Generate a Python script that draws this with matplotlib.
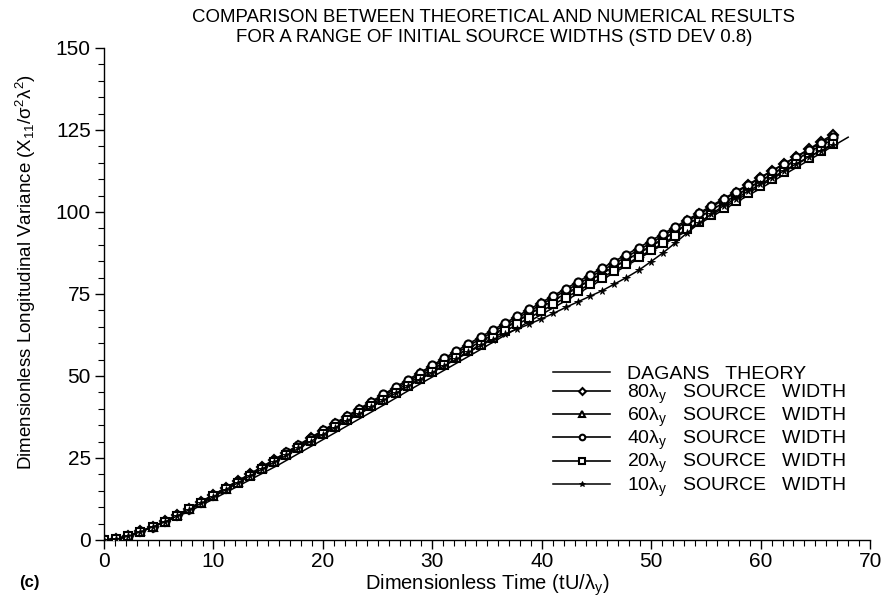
import matplotlib
matplotlib.use("Agg")
import matplotlib.pyplot as plt
from matplotlib.ticker import MultipleLocator

# ---------------- data ----------------
theory_t = [0, 1, 2, 3, 4, 5, 6, 7, 8, 10, 12, 14, 16, 18, 20, 22, 24, 26, 28, 30,
            32, 34, 36, 38, 40, 42, 44, 46, 48, 50, 52, 54, 56, 58, 60, 62, 64, 66, 68]
theory_v = [0.0, 0.4, 1.2, 2.2, 3.4, 4.7, 6.1, 7.6, 9.1, 12.5, 16.0, 19.5, 23.0, 26.8,
            30.6, 34.4, 38.2, 42.0, 45.9, 49.7, 53.5, 57.3, 61.2, 65.0, 68.8, 72.6,
            76.5, 80.3, 84.1, 88.0, 91.8, 95.7, 99.5, 103.4, 107.2, 111.1, 115.0,
            118.9, 122.8]

time = [0.0, 1.11, 2.22, 3.33, 4.44, 5.55, 6.66, 7.77, 8.88, 9.99, 11.1, 12.21, 13.32,
        14.43, 15.54, 16.65, 17.76, 18.87, 19.98, 21.09, 22.2, 23.31, 24.42, 25.53,
        26.64, 27.75, 28.86, 29.97, 31.08, 32.19, 33.3, 34.41, 35.52, 36.63, 37.74,
        38.85, 39.96, 41.07, 42.18, 43.29, 44.4, 45.51, 46.62, 47.73, 48.84, 49.95,
        51.06, 52.17, 53.28, 54.39, 55.5, 56.61, 57.72, 58.83, 59.94, 61.05, 62.16,
        63.27, 64.38, 65.49, 66.6]

w80 = [0.0, 0.2, 1.3, 2.6, 4.1, 5.7, 7.6, 9.6, 11.6, 13.7, 15.8, 17.9, 20.0, 22.2, 24.4,
       26.6, 28.8, 31.0, 33.2, 35.3, 37.5, 39.6, 41.8, 44.0, 46.1, 48.3, 50.5, 52.7,
       54.9, 57.0, 59.2, 61.3, 63.4, 65.5, 67.6, 69.7, 71.8, 73.9, 76.0, 78.0, 80.1,
       82.2, 84.2, 86.3, 88.4, 90.5, 92.7, 94.9, 97.1, 99.3, 101.5, 103.7, 105.9,
       108.1, 110.3, 112.5, 114.7, 116.9, 119.1, 121.4, 123.6]
w60 = [0.0, 0.2, 1.3, 2.6, 4.0, 5.6, 7.5, 9.4, 11.4, 13.5, 15.6, 17.7, 19.8, 21.9, 24.1,
       26.3, 28.5, 30.6, 32.8, 34.9, 37.0, 39.1, 41.3, 43.4, 45.5, 47.7, 49.9, 52.0,
       54.2, 56.3, 58.4, 60.5, 62.6, 64.7, 66.8, 68.9, 71.0, 73.0, 75.1, 77.1, 79.2,
       81.3, 83.3, 85.4, 87.5, 89.6, 91.8, 94.0, 96.2, 98.4, 100.6, 102.8, 105.0,
       107.2, 109.4, 111.6, 113.8, 116.0, 118.2, 120.2, 122.0]
w40 = [0.0, 0.2, 1.3, 2.6, 4.1, 5.7, 7.6, 9.6, 11.7, 13.8, 15.9, 18.0, 20.1, 22.3, 24.5,
       26.7, 29.0, 31.2, 33.4, 35.6, 37.8, 40.0, 42.2, 44.4, 46.6, 48.8, 51.0, 53.2,
       55.4, 57.6, 59.8, 61.9, 64.0, 66.1, 68.2, 70.3, 72.4, 74.5, 76.6, 78.7, 80.8,
       82.9, 84.9, 87.0, 89.1, 91.2, 93.3, 95.4, 97.6, 99.7, 101.9, 104.0, 106.2,
       108.3, 110.5, 112.6, 114.7, 116.8, 118.9, 121.0, 123.0]
w20 = [0.0, 0.2, 1.2, 2.5, 4.0, 5.6, 7.4, 9.3, 11.3, 13.3, 15.4, 17.5, 19.6, 21.7, 23.8,
       26.0, 28.1, 30.2, 32.3, 34.4, 36.5, 38.6, 40.7, 42.8, 44.9, 47.0, 49.1, 51.2,
       53.3, 55.4, 57.5, 59.5, 61.6, 63.6, 65.7, 67.7, 69.8, 71.8, 73.9, 75.9, 78.0,
       80.0, 82.1, 84.1, 86.2, 88.3, 90.4, 92.6, 94.7, 96.9, 99.1, 101.3, 103.5,
       105.7, 107.9, 110.1, 112.3, 114.5, 116.6, 118.7, 120.8]
w10 = [0.0, 0.2, 1.2, 2.5, 4.0, 5.5, 7.3, 9.2, 11.2, 13.2, 15.3, 17.4, 19.5, 21.6, 23.7,
       25.8, 27.9, 30.0, 32.1, 34.2, 36.3, 38.4, 40.5, 42.6, 44.7, 46.8, 48.9, 51.0,
       53.1, 55.1, 57.2, 59.3, 61.1, 62.8, 64.3, 65.8, 67.4, 69.1, 70.9, 72.6, 74.3,
       76.0, 78.0, 80.0, 82.2, 84.8, 87.5, 90.5, 93.6, 96.6, 99.4, 101.9, 104.1, 106.3,
       108.4, 110.5, 112.6, 114.7, 116.8, 118.7, 120.3]

series = [
    (w80, "D", r"80λ$_\mathregular{y}$  SOURCE  WIDTH"),
    (w60, "^", r"60λ$_\mathregular{y}$  SOURCE  WIDTH"),
    (w40, "o", r"40λ$_\mathregular{y}$  SOURCE  WIDTH"),
    (w20, "s", r"20λ$_\mathregular{y}$  SOURCE  WIDTH"),
]

# ---------------- figure ----------------
FONT = ["Liberation Sans", "DejaVu Sans"]
plt.rcParams["font.family"] = FONT
plt.rcParams["mathtext.default"] = "regular"

fig = plt.figure(figsize=(8.9, 5.99), dpi=100)
ax = fig.add_axes([0.1169, 0.0985, 0.8607, 0.8214])

ax.plot(theory_t, theory_v, color="black", lw=1.1, label="DAGANS  THEORY", zorder=2)
for vals, mk, lab in series:
    ms = 5.8 if mk != "D" else 5.0
    ax.plot(time, vals, color="black", lw=1.2, marker=mk, ms=ms, mfc="white",
            mec="black", mew=1.5, label=lab, zorder=3)
ax.plot(time, w10, color="black", lw=1.1, marker="*", ms=5.5, mfc="black",
        mec="black", mew=0.6, label=r"10λ$_\mathregular{y}$  SOURCE  WIDTH", zorder=3)

ax.set_xlim(0, 70)
ax.set_ylim(0, 150)
ax.xaxis.set_major_locator(MultipleLocator(10))
ax.xaxis.set_minor_locator(MultipleLocator(1))
ax.yaxis.set_major_locator(MultipleLocator(25))
ax.yaxis.set_minor_locator(MultipleLocator(5))
for s in ("top", "right"):
    ax.spines[s].set_visible(False)
for s in ("left", "bottom"):
    ax.spines[s].set_linewidth(1.0)
ax.tick_params(which="major", direction="out", length=6.5, width=1.0, labelsize=15, pad=2)
ax.tick_params(which="minor", direction="out", length=4.5, width=0.8)
ax.tick_params(axis="y", which="major", pad=3)

ax.set_xlabel(r"Dimensionless Time (tU/λ$_\mathregular{y}$)", fontsize=14.5, labelpad=1)
ax.set_ylabel(r"Dimensionless Longitudinal Variance (X$_{\mathregular{11}}$/σ$^\mathregular{2}$λ$^\mathregular{2}$)",
              fontsize=13.5)
ax.yaxis.set_label_coords(-0.086, 0.545)

fig.text(0.555, 0.985, "COMPARISON BETWEEN THEORETICAL AND NUMERICAL RESULTS\n"
         "FOR A RANGE OF INITIAL SOURCE WIDTHS (STD DEV 0.8)",
         ha="center", va="top", fontsize=13.4, linespacing=1.25)
fig.text(0.022, 0.028, "(c)", fontsize=12, fontweight="bold", ha="left", va="center")

leg = ax.legend(loc="upper left", bbox_to_anchor=(553 / 890, 1 - 365 / 599),
                bbox_transform=fig.transFigure, frameon=False, fontsize=14,
                handlelength=2.95, handletextpad=0.85, labelspacing=0.0,
                borderpad=0, borderaxespad=0, markerscale=0.7)
for t in leg.get_texts():
    t.set_text(t.get_text().replace("  ", "   "))

fig.savefig("out.png", dpi=100)
